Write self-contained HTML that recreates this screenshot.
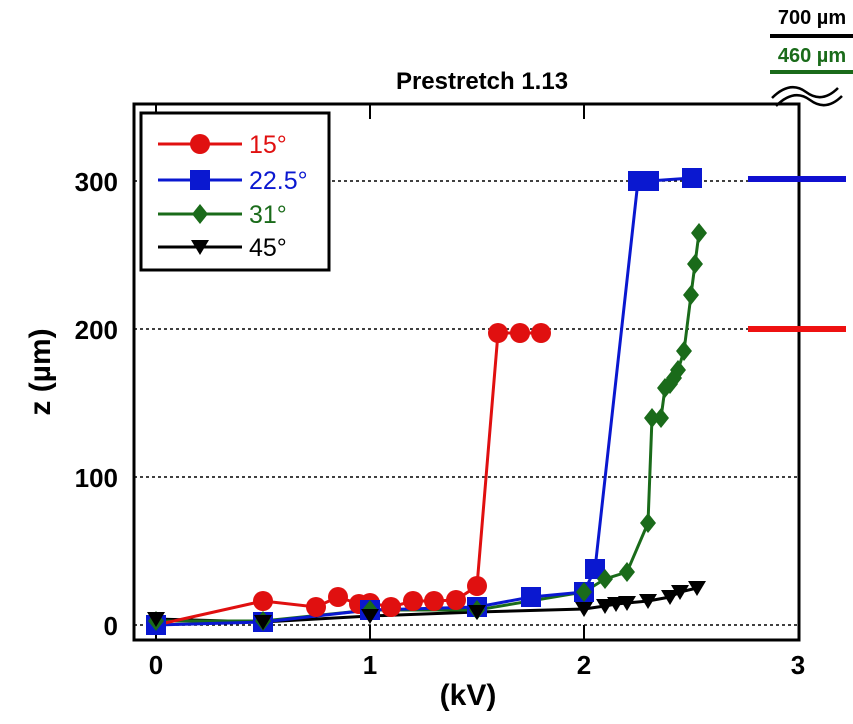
<!DOCTYPE html>
<html><head><meta charset="utf-8"><style>body{margin:0;background:#fff}svg{display:block;font-family:"Liberation Sans",Arial,sans-serif;font-weight:bold}</style></head><body>
<svg width="853" height="724" xmlns="http://www.w3.org/2000/svg">
<rect width="853" height="724" fill="#fff"/>
<g stroke="#000" stroke-width="1.5" stroke-dasharray="3,3">
<line x1="134" y1="625" x2="800" y2="625"/><line x1="134" y1="477" x2="800" y2="477"/><line x1="134" y1="329" x2="800" y2="329"/><line x1="134" y1="181" x2="800" y2="181"/>
</g>
<rect x="134" y="104" width="665" height="536" fill="none" stroke="#000" stroke-width="3"/>
<g stroke="#000" stroke-width="2">
<line x1="156" y1="640" x2="156" y2="625"/><line x1="370" y1="640" x2="370" y2="625"/><line x1="584" y1="640" x2="584" y2="625"/>
<line x1="156" y1="104" x2="156" y2="118"/><line x1="370" y1="104" x2="370" y2="119"/><line x1="584" y1="104" x2="584" y2="119"/>
</g>
<g font-size="26" text-anchor="middle"><text x="156" y="674">0</text><text x="370" y="674">1</text><text x="584" y="674">2</text><text x="798" y="674">3</text></g>
<g font-size="26" text-anchor="end"><text x="118" y="635">0</text><text x="118" y="487">100</text><text x="118" y="339">200</text><text x="118" y="191">300</text></g>
<text x="468" y="705" font-size="30" text-anchor="middle">(kV)</text>
<text transform="translate(50,372) rotate(-90)" font-size="30" text-anchor="middle">z (µm)</text>
<text x="482" y="89" font-size="24" text-anchor="middle">Prestretch 1.13</text>
<text x="812" y="24" font-size="20" text-anchor="middle">700 µm</text>
<line x1="770" y1="36" x2="853" y2="36" stroke="#000" stroke-width="4"/>
<text x="812" y="62" font-size="20" text-anchor="middle" fill="#1a6b1a">460 µm</text>
<line x1="770" y1="72" x2="853" y2="72" stroke="#1a6b1a" stroke-width="4"/>
<path d="M772 98 Q790 80 806 92 T838 88 M776 106 Q794 88 810 100 T842 96" fill="none" stroke="#000" stroke-width="2.5"/>
<line x1="748" y1="179" x2="846" y2="179" stroke="#1010d0" stroke-width="6"/>
<line x1="748" y1="329" x2="846" y2="329" stroke="#ee1111" stroke-width="6"/>
<defs>
<circle id="c" r="10" fill="#e01010"/>
<rect id="s" x="-10" y="-10" width="20" height="20" fill="#0a18d0"/>
<polygon id="d" points="0,-10 8,0 0,10 -8,0" fill="#1a6b1a"/>
<polygon id="t" points="-9,-7 9,-7 0,8" fill="#000"/>
</defs>
<polyline fill="none" stroke="#000" stroke-width="3" points="156,619 263,622 370,616 477,612 584,609 605,606 616,604 627,603 648,601 670,597 680,592 697,588"/>
<polyline fill="none" stroke="#1a6b1a" stroke-width="3" points="156,621 263,621 370,610 477,610 584,592 605,579 627,572 648,523 652,418 661,418 665,388 670,384 674,378 678,370 684,351 691,295 695,264 699,233"/>
<polyline fill="none" stroke="#0a18d0" stroke-width="3" points="156,625 263,622 370,610 477,607 531,597 584,592 595,569 638,181 649,181 692,178"/>
<polyline fill="none" stroke="#e01010" stroke-width="3" points="156,625 263,601 316,607 338,597 359,604 370,603 391,607 413,601 434,601 456,600 477,586 498,333 520,333 541,333"/>
<g>
<use href="#c" x="263" y="601"/><use href="#c" x="316" y="607"/><use href="#c" x="338" y="597"/><use href="#c" x="359" y="604"/><use href="#c" x="370" y="603"/><use href="#c" x="391" y="607"/><use href="#c" x="413" y="601"/><use href="#c" x="434" y="601"/><use href="#c" x="456" y="600"/><use href="#c" x="477" y="586"/><use href="#c" x="498" y="333"/><use href="#c" x="520" y="333"/><use href="#c" x="541" y="333"/>
<use href="#s" x="156" y="625"/><use href="#s" x="263" y="622"/><use href="#s" x="370" y="610"/><use href="#s" x="477" y="607"/><use href="#s" x="531" y="597"/><use href="#s" x="584" y="592"/><use href="#s" x="595" y="569"/><use href="#s" x="638" y="181"/><use href="#s" x="649" y="181"/><use href="#s" x="692" y="178"/>
<use href="#d" x="156" y="621"/><use href="#d" x="263" y="621"/><use href="#d" x="370" y="610"/><use href="#d" x="477" y="610"/><use href="#d" x="584" y="592"/><use href="#d" x="605" y="579"/><use href="#d" x="627" y="572"/><use href="#d" x="648" y="523"/><use href="#d" x="652" y="418"/><use href="#d" x="661" y="418"/><use href="#d" x="665" y="388"/><use href="#d" x="670" y="384"/><use href="#d" x="674" y="378"/><use href="#d" x="678" y="370"/><use href="#d" x="684" y="351"/><use href="#d" x="691" y="295"/><use href="#d" x="695" y="264"/><use href="#d" x="699" y="233"/>
<use href="#t" x="156" y="619"/><use href="#t" x="263" y="622"/><use href="#t" x="370" y="616"/><use href="#t" x="477" y="612"/><use href="#t" x="584" y="609"/><use href="#t" x="605" y="606"/><use href="#t" x="616" y="604"/><use href="#t" x="627" y="603"/><use href="#t" x="648" y="601"/><use href="#t" x="670" y="597"/><use href="#t" x="680" y="592"/><use href="#t" x="697" y="588"/>
</g>
<rect x="141" y="113" width="188" height="157" fill="#fff" stroke="#000" stroke-width="3"/>
<g stroke-width="3">
<line x1="158" y1="144" x2="242" y2="144" stroke="#e01010"/><use href="#c" x="200" y="144"/>
<line x1="158" y1="180" x2="242" y2="180" stroke="#0a18d0"/><use href="#s" x="200" y="180"/>
<line x1="158" y1="214" x2="242" y2="214" stroke="#1a6b1a"/><use href="#d" x="200" y="214"/>
<line x1="158" y1="247" x2="242" y2="247" stroke="#000"/><use href="#t" x="200" y="247"/>
</g>
<g font-size="25" font-weight="normal">
<text x="249" y="153" fill="#e01010">15°</text>
<text x="249" y="189" fill="#0a18d0">22.5°</text>
<text x="249" y="223" fill="#1a6b1a">31°</text>
<text x="249" y="256" fill="#000">45°</text>
</g>
</svg>
</body></html>
